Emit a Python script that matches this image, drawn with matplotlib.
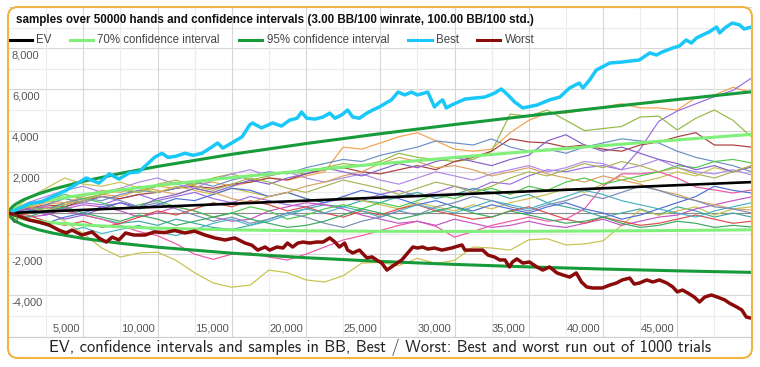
import matplotlib
matplotlib.use("Agg")
import matplotlib.pyplot as plt
from matplotlib.patches import FancyBboxPatch
from matplotlib.lines import Line2D

# ---------------- data ----------------
title = "samples over 50000 hands and confidence intervals (3.00 BB/100 winrate, 100.00 BB/100 std.)"
caption = "EV, confidence intervals and samples in BB, Best / Worst: Best and worst run out of 1000 trials"
legend_labels = ["EV", "70% confidence interval", "95% confidence interval", "Best", "Worst"]

ci_hands = [0, 100, 250, 500, 1000, 2000, 3000, 5000, 7500, 10000, 15000, 20000, 25000,
            30000, 35000, 40000, 45000, 50000]
ev_vals = [0, 3, 7.5, 15, 30, 60, 90, 150, 225, 300, 450, 600, 750, 900, 1050, 1200, 1350, 1500]
ci70_hi = [0, 107, 171, 247, 358, 523, 657, 883, 1122, 1336, 1719, 2065, 2388, 2694, 2988, 3272, 3548, 3817]
ci70_lo = [0, -101, -156, -217, -298, -403, -477, -583, -672, -736, -819, -865, -888, -894, -888, -872, -848, -817]
ci95_hi = [0, 199, 318, 453, 650, 937, 1163, 1536, 1922, 2260, 2850, 3372, 3849, 4295, 4717, 5120, 5508, 5883]
ci95_lo = [0, -193, -303, -423, -590, -817, -983, -1236, -1472, -1660, -1950, -2172, -2349, -2495, -2617, -2720, -2808, -2883]

best_hands = [0, 1350, 2200, 3850, 5200, 6050, 6750, 7400, 8100, 8750, 9800, 10300, 10700, 11200, 11850,
              12400, 13000, 13650, 14050, 14400, 15000, 15700, 16200, 16400, 17000, 17750, 18350, 18900,
              19400, 19700, 20050, 20600, 21150, 21600, 21950, 22400, 22800, 23150, 23600, 24100, 24500,
              24950, 25500, 25750, 26200, 26650, 27100, 27500, 28200, 28650, 29000, 29200, 29450, 29800,
              30700, 31350, 32050, 32700, 33150, 33600, 34050, 34600, 35550, 36400, 37100, 37750, 38400,
              38650, 39100, 39550, 39950, 40450, 41300, 42450, 43150, 43600, 44000, 44700, 45150, 45600,
              45950, 46300, 46700, 47150, 47650, 47850, 48200, 48700, 49200, 49500, 50000]
best_vals = [0, 450, 550, 1100, 1700, 1450, 1900, 1650, 1950, 2000, 2700, 2900, 2700, 2750, 2900,
             2800, 2900, 3200, 3400, 3150, 3400, 3700, 4270, 4370, 4130, 4370, 4220, 4510,
             4600, 4900, 4600, 4560, 4660, 4850, 4600, 4760, 5000, 4660, 4600, 4850, 5000,
             5150, 5390, 5490, 5870, 5730, 5870, 5730, 5870, 5150, 5390, 5490, 5100, 5240,
             5530, 5580, 5630, 5820, 6020, 5730, 5390, 5100, 5240, 5490, 5630, 6070, 6310,
             6070, 6460, 6940, 7090, 7280, 7330, 7430, 7770, 7670, 7820, 8010, 8110, 8400,
             8250, 8500, 8640, 8790, 9030, 8740, 8980, 9220, 9130, 8930, 9030]

worst_hands = [0, 650, 1350, 2000, 2700, 3350, 3850, 4250, 4900, 5600, 6050, 6550, 6950, 7400, 7850,
               8400, 9150, 9800, 10500, 11150, 11850, 12500, 13200, 13850, 14550, 15200, 15900, 16350,
               16750, 17250, 17550, 18050, 18450, 18750, 19100, 19450, 19800, 20250, 20700, 21150,
               21600, 21950, 22250, 22600, 22800, 23150, 23600, 24100, 24450, 24750, 25100, 25450,
               25650, 25950, 26450, 26850, 27200, 27500, 27850, 28200, 28650, 29150, 29800, 30500,
               30700, 31350, 31900, 32250, 32700, 33050, 33400, 33700, 33900, 34200, 34600, 35050,
               35550, 35950, 36400, 36900, 37300, 37750, 38200, 38550, 38900, 39300, 39950, 40450,
               40900, 41300, 41800, 42100, 42450, 42950, 43350, 43800, 44300, 44700, 45000, 45350,
               45700, 46150, 46500, 46850, 47300, 47700, 48200, 48500, 49000, 49350, 49650, 49950]
worst_vals = [0, -150, -340, -440, -580, -830, -970, -830, -1070, -920, -1210, -1410, -1170, -1310, -970,
              -1070, -1070, -920, -950, -850, -970, -880, -1070, -1210, -1310, -1210, -1460, -1560,
              -1800, -1650, -1800, -1650, -1700, -1460, -1650, -1460, -1410, -1460, -1410, -1410,
              -1210, -1410, -1650, -1460, -1800, -1940, -1800, -2180, -2130, -2280, -2430, -2770,
              -2670, -2520, -2280, -1940, -1650, -1700, -1650, -1750, -1700, -1800, -1700, -1550,
              -1800, -1800, -1800, -2040, -2140, -2280, -2280, -2620, -2380, -2230, -2430, -2380,
              -2620, -2770, -2620, -2910, -3010, -3110, -2910, -3350, -3590, -3640, -3640, -3500,
              -3400, -3250, -3160, -3450, -3400, -3250, -3350, -3250, -3400, -3590, -3830, -3740,
              -3880, -4080, -4320, -4080, -3980, -4080, -4220, -4370, -4560, -4710, -5050, -5100]

sample_hands = list(range(0, 50001, 1250))
s01 = [0, 250, 500, 400, 700, 900, 800, 1100, 1300, 1200, 1400, 1500, 1300, 1500, 1700, 1600, 1800, 2000, 3200, 3100, 3400, 3700, 3900, 3500, 3100, 3000, 3100, 3900, 4500, 4850, 4850, 5000, 5150, 5300, 5100, 5100, 5000, 5600, 5730, 6100, 5850]
s02 = [0, 200, -100, 300, 500, 400, 700, 900, 600, 800, 1000, 700, 500, 800, 600, 400, 300, 500, 700, 600, 900, 1100, 800, 1000, 1300, 1100, 1500, 1400, 1800, 2100, 2000, 2200, 2300, 2100, 3100, 4450, 4950, 5300, 5650, 5950, 6550]
s03 = [0, 300, 200, 500, 700, 900, 1100, 1000, 1300, 1500, 1400, 1700, 1900, 1600, 1800, 2000, 1900, 2200, 2400, 2300, 2500, 2900, 2700, 2600, 2500, 2600, 3000, 4800, 4700, 5000, 4500, 4000, 4100, 4200, 4660, 4700, 4030, 4600, 5000, 4500, 3690]
s04 = [0, 200, 400, 300, 600, 800, 700, 900, 1000, 1200, 1300, 1200, 1400, 1500, 1700, 1600, 1900, 2100, 2200, 2000, 1900, 2100, 2300, 2100, 2500, 2700, 3000, 3600, 3450, 3400, 3200, 3300, 3100, 3000, 3300, 3450, 3700, 3900, 3300, 3300, 3200]
s05 = [0, 300, 100, 500, 700, 600, 900, 1100, 1000, 1200, 1500, 1300, 1600, 1800, 2000, 1900, 2200, 2400, 2600, 2500, 2800, 3000, 3200, 3500, 3400, 3300, 3600, 3200, 3000, 3100, 2900, 3200, 3400, 3600, 3500, 3400, 3000, 2700, 2500, 2300, 2000]
s06 = [0, 100, 300, 200, -100, -300, -500, -400, -600, -300, -500, -700, -800, -600, -300, 0, 200, 400, 300, 600, 500, 800, 1000, 700, 900, 1200, 1000, 700, 900, 500, 300, 100, -200, 0, 200, -100, 300, 100, -200, 0, -200]
s07 = [0, 0, 100, -400, -1000, -1700, -2140, -1940, -1900, -2300, -2900, -3400, -3600, -3500, -2770, -2900, -3250, -3350, -3050, -2430, -2400, -2550, -2200, -2450, -2300, -1650, -1700, -1800, -1300, -1250, -1550, -1500, -1350, -600, 150, -100, 100, 300, -100, 200, 300]
s08 = [0, 700, 1200, 1700, 1400, 1300, 1500, 1200, 1000, 1300, 1100, 900, 1200, 1000, 800, 1000, 700, 500, 800, 600, 400, 200, 500, 300, 100, 400, 200, 500, 700, 900, 1200, 1000, 1400, 1800, 1500, 1700, 2000, 1800, 2200, 2000, 2300]
s09 = [0, 200, 300, 100, -100, -300, -600, -900, -1100, -1500, -2000, -2250, -2000, -1940, -2140, -2280, -2000, -1650, -1310, -1100, -850, -600, -400, -650, -1170, -900, -600, -400, -200, -400, -300, 200, 1300, 1900, 1900, 2000, 1700, 1260, 1120, 970, 1120]
s10 = [0, -200, -100, 200, 400, 300, 100, -200, 0, 300, 100, -200, -400, -300, 100, 300, 500, 400, 200, -100, -300, -500, -400, -600, -300, -500, -700, -600, -400, -600, -700, -500, -300, -600, -400, -200, -100, 200, 400, 600, 780]
s11 = [0, 400, 600, 900, 700, 500, 200, 400, 600, 300, 100, -200, 0, 300, 100, -300, -100, 200, 400, 200, 500, 300, 600, 900, 700, 1000, 1200, 900, 1300, 1100, 1500, 1700, 1400, 1600, 1800, 2000, 2300, 2200, 2500, 2600, 2430]
s12 = [0, -300, -500, -200, 0, 300, 500, 200, 400, 700, 600, 900, 1200, 1100, 800, 1000, 700, 500, 800, 1100, 900, 700, 400, 600, 300, 100, 400, 200, 0, 300, 500, 200, 0, -300, -100, 200, 500, 800, 1300, 1100, 970]
s13 = [0, 500, 800, 1100, 1300, 1000, 1200, 1500, 1700, 1400, 1200, 1600, 1900, 2100, 1800, 2000, 1700, 1500, 1700, 1900, 1600, 1400, 1700, 2000, 1800, 1600, 1900, 2100, 2300, 2000, 2200, 2500, 2400, 2100, 2300, 2600, 2200, 2000, 1900, 2100, 1850]
s14 = [0, -100, -400, -600, -400, -700, -500, -200, 100, -100, 200, 500, 300, 600, 400, 100, 300, 0, -200, 100, -100, 200, 400, 100, -100, -300, -200, 100, 300, 0, -300, -500, -200, -400, -600, -500, -300, -100, -300, -500, -400]
s15 = [0, 300, 600, 500, 800, 1100, 1000, 1300, 1100, 900, 1200, 1000, 700, 500, 800, 1000, 1300, 1500, 1800, 2000, 2400, 2700, 2500, 2200, 2300, 2100, 1800, 2000, 2200, 1900, 1700, 1500, 1800, 1600, 1400, 1100, 900, 600, 400, 200, 150]
s16 = [0, 200, 0, -300, -100, 200, 500, 300, 700, 900, 1200, 1000, 1300, 1600, 1400, 1700, 1900, 2200, 2000, 1800, 2100, 2400, 2200, 2500, 2700, 2500, 2300, 2600, 2800, 3500, 3800, 3300, 3000, 3200, 2900, 2600, 2400, 2100, 2300, 2000, 2230]
s17 = [0, -300, -600, -900, -700, -1000, -800, -600, -900, -1100, -800, -500, -300, -600, -400, -100, 200, 0, 300, 100, -200, 100, 400, 200, 0, 300, 600, 400, 200, 500, 800, 1100, 900, 600, 400, 200, 0, -200, 100, 300, 500]
s18 = [0, 100, 400, 700, 500, 800, 600, 300, 500, 200, -100, -400, -200, -500, -300, 0, -200, -500, -700, -400, -200, 100, -100, 300, 500, 800, 600, 300, 100, 400, 600, 900, 700, 1000, 1300, 1100, 800, 600, 300, 200, 0]
s19 = [0, -200, 100, 300, 0, -200, -400, -100, -300, -600, -400, -200, 0, -300, -500, -700, -600, -400, -100, 200, 0, -300, -100, 100, 300, 0, -200, 100, -100, -300, -500, -400, -200, -500, -700, -600, -400, -500, -700, -600, -680]
s20 = [0, 300, 100, 400, 600, 900, 1200, 1000, 1400, 1600, 1300, 1100, 1400, 1700, 1500, 1200, 1000, 1300, 1600, 1400, 1200, 900, 1200, 1500, 1300, 1000, 1300, 1700, 2000, 1800, 2100, 2400, 2200, 2500, 2300, 2000, 2200, 1900, 1700, 2000, 2300]
samples = [s01, s02, s03, s04, s05, s06, s07, s08, s09, s10, s11, s12, s13, s14, s15, s16, s17, s18, s19, s20]
sample_colors = ['#f5a04a', '#9a6be0', '#94b842', '#a83c3c', '#6b8fc4', '#3fa8a0', '#c7c24a', '#c9c050',
                 '#f055a5', '#c454c4', '#4cc94c', '#4f6fd6', '#b08ae8', '#d94c4c', '#d9a35e', '#8560c8',
                 '#4ab3c4', '#7a8bb5', '#3aaa60', '#a8b455']

y_ticks = [-4000, -2000, 0, 2000, 4000, 6000, 8000]
x_ticks = [5000, 10000, 15000, 20000, 25000, 30000, 35000, 40000, 45000]

# ---------------- styling ----------------
EV_C, C70, C95, BEST_C, WORST_C = '#000000', '#80f07a', '#169a3a', '#19c8f8', '#8b0a0a'
SANS = ['Liberation Sans', 'DejaVu Sans']

W, H = 760, 367
fig = plt.figure(figsize=(W / 100, H / 100), dpi=100)
fig.patch.set_facecolor('white')

def fx(px):
    return px / W

def fy(py):
    return 1 - py / H

ax = fig.add_axes([fx(9), fy(336.6), (751.5 - 9) / W, (336.6 - 7) / H])
ax.set_xlim(0, 50000)
ax.set_ylim(-6000, 10000)
for s in ['top', 'left', 'right']:
    ax.spines[s].set_visible(False)
ax.spines['bottom'].set_color('#cccccc')
ax.set_xticks([])
ax.set_yticks([])

# grid
for v in range(-6000, 10001, 1000):
    ax.axhline(v, color='#d6d6d6' if v % 2000 == 0 else '#ececec', lw=0.8, zorder=0)
for v in range(2500, 50000, 2500):
    ax.axvline(v, color='#d6d6d6' if v % 5000 == 0 else '#ececec', lw=0.8, zorder=0)
ax.axhline(0, color='#8c8c8c', lw=0.8, zorder=1)

# samples
for vals, c in zip(samples, sample_colors):
    ax.plot(sample_hands, vals, color=c, lw=0.85, zorder=2, solid_joinstyle='round')

ax.plot(ci_hands, ci70_hi, color=C70, lw=2.2, zorder=3)
ax.plot(ci_hands, ci70_lo, color=C70, lw=2.2, zorder=3)
ax.plot(ci_hands, ci95_hi, color=C95, lw=2.2, zorder=3)
ax.plot(ci_hands, ci95_lo, color=C95, lw=2.2, zorder=3)
ax.plot(ci_hands, ev_vals, color=EV_C, lw=1.9, zorder=4)
ax.plot(best_hands, best_vals, color=BEST_C, lw=2.5, zorder=5, solid_joinstyle='round')
ax.plot(worst_hands, worst_vals, color=WORST_C, lw=2.5, zorder=5, solid_joinstyle='round')

# tick labels
for v in y_ticks:
    ax.annotate(f"{v:,}", xy=(0, v), xycoords=('axes fraction', 'data'), xytext=(3, -2),
                textcoords='offset pixels', ha='left', va='top', family=SANS, size=8,
                color='#555555', zorder=6)
for v in x_ticks:
    ax.annotate(f"{v:,}", xy=(v, 0), xycoords=('data', 'axes fraction'), xytext=(-3, 8),
                textcoords='offset pixels', ha='right', va='center', family=SANS, size=8,
                color='#555555', zorder=6)

# title
fig.text(fx(16), fy(20), title, ha='left', va='center', family=SANS, weight='bold', size=8.35,
         color='#111111', zorder=7)

# legend
leg_colors = [EV_C, C70, C95, BEST_C, WORST_C]
leg_line_x = [(8, 32), (70, 93), (239, 262), (408, 432), (477, 500)]
leg_text_x = [36, 97, 267, 436, 505]
for lab, c, (a, b), tx in zip(legend_labels, leg_colors, leg_line_x, leg_text_x):
    fig.add_artist(Line2D([fx(a), fx(b)], [fy(40), fy(40)], transform=fig.transFigure,
                          color=c, lw=2.2, zorder=7))
    fig.text(fx(tx), fy(40), lab, ha='left', va='center', family=SANS, size=8.3,
             color='#444444', zorder=7)

# caption
fig.text(fx(380), fy(347), caption, ha='center', va='center', family=['cmss10', 'DejaVu Sans'],
         size=11.8, color='#222222')

# rounded frame
frame = FancyBboxPatch((8, H - 358), 744, 351, boxstyle="round,pad=0,rounding_size=10",
                       transform=None, fill=False, edgecolor='#f0b444', lw=1.5, zorder=20)
fig.add_artist(frame)

fig.savefig('out.png', dpi=100, facecolor='white')
